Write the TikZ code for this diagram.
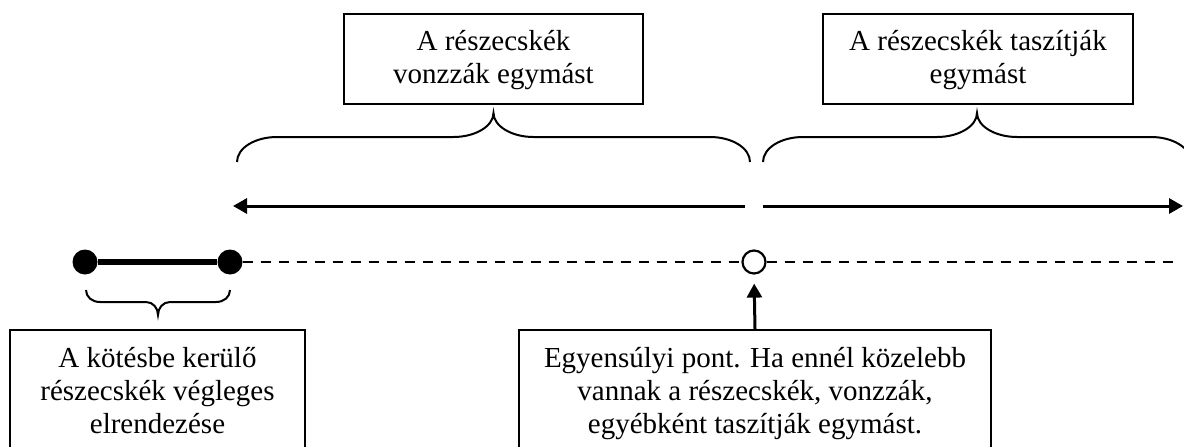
\documentclass[tikz,border=0pt]{standalone}
\usepackage{fontspec}
\setmainfont{Liberation Serif}
\usetikzlibrary{arrows.meta}
\tikzset{
  boxnode/.style={draw, line width=2pt, inner sep=0pt, anchor=north west, font=\fontsize{29}{33}\selectfont},
  bracestyle/.style={line width=2pt},
  arrowline/.style={line width=3pt, -{Triangle[length=14pt,width=15pt]}},
  dashline/.style={line width=2.8pt, dash pattern=on 10pt off 8pt},
  dotnode/.style={circle, fill=black, minimum size=25pt, inner sep=0pt},
  eqnode/.style={circle, draw, fill=white, line width=2.2pt, minimum size=23pt, inner sep=0pt},
  bondline/.style={line width=5.5pt}
}
\begin{document}
\begin{tikzpicture}[x=1pt,y=-1pt]
\useasboundingbox (0,0) rectangle (1184,447);
\clip (0,0) rectangle (1184,447);
% boxes
\node[boxnode] (b1) at (343,13) {\parbox[t][90pt][t]{299pt}{\centering\vspace*{13.4pt}\strut A részecskék\\\strut vonzzák egymást}};
\node[boxnode] (b2) at (822,13) {\parbox[t][90pt][t]{310pt}{\centering\vspace*{13.4pt}\strut A részecskék taszítják\\\strut egymást}};
\node[boxnode] (b3) at (9,329) {\parbox[t][140pt][t]{295pt}{\centering\vspace*{14.4pt}\strut A kötésbe kerülő\\\strut részecskék végleges\\\strut elrendezése}};
\node[boxnode] (b4) at (518,329) {\parbox[t][140pt][t]{472pt}{\centering\vspace*{14.4pt}\strut Egyensúlyi pont. Ha ennél közelebb\\\strut vannak a részecskék, vonzzák,\\\strut egyébként taszítják egymást.}};
% braces
\draw[bracestyle] (237,162) .. controls (237,148) and (255,137) .. (277,137) -- (453.5,137) .. controls (475.5,137) and (493.5,126) .. (493.5,113) .. controls (493.5,126) and (511.5,137) .. (533.5,137) -- (710,137) .. controls (732,137) and (750,148) .. (750,162);
\draw[bracestyle] (763,162) .. controls (763,148) and (781,137) .. (803,137) -- (937,137) .. controls (959,137) and (977,126) .. (977,113) .. controls (977,126) and (995,137) .. (1017,137) -- (1151,137) .. controls (1173,137) and (1191,148) .. (1191,162);
\draw[bracestyle] (86,290) .. controls (86,297) and (92,302) .. (100,302) -- (146,302) .. controls (153,302) and (158,308) .. (158,315) .. controls (158,308) and (163,302) .. (170,302) -- (216,302) .. controls (224,302) and (230,297) .. (230,290);
% horizontal arrows
\coordinate (la0) at (745,206);
\coordinate (la1) at (233,206);
\coordinate (ra0) at (763,206);
\coordinate (ra1) at (1183,206);
\draw[arrowline] (la0) -- (la1);
\draw[arrowline] (ra0) -- (ra1);
% particles line
\node[dotnode] (d1) at (85,262) {};
\node[dotnode] (d2) at (230,262) {};
\node[eqnode] (eq) at (754,262) {};
\coordinate (dend) at (1180,262);
\draw[bondline] (d1) -- (d2);
\draw[dashline] (d2) -- (eq);
\draw[dashline] (eq) -- (dend);
% up arrow
\draw[arrowline, shorten >=9pt] (b4.north) -- (eq.south);
\end{tikzpicture}
\end{document}
